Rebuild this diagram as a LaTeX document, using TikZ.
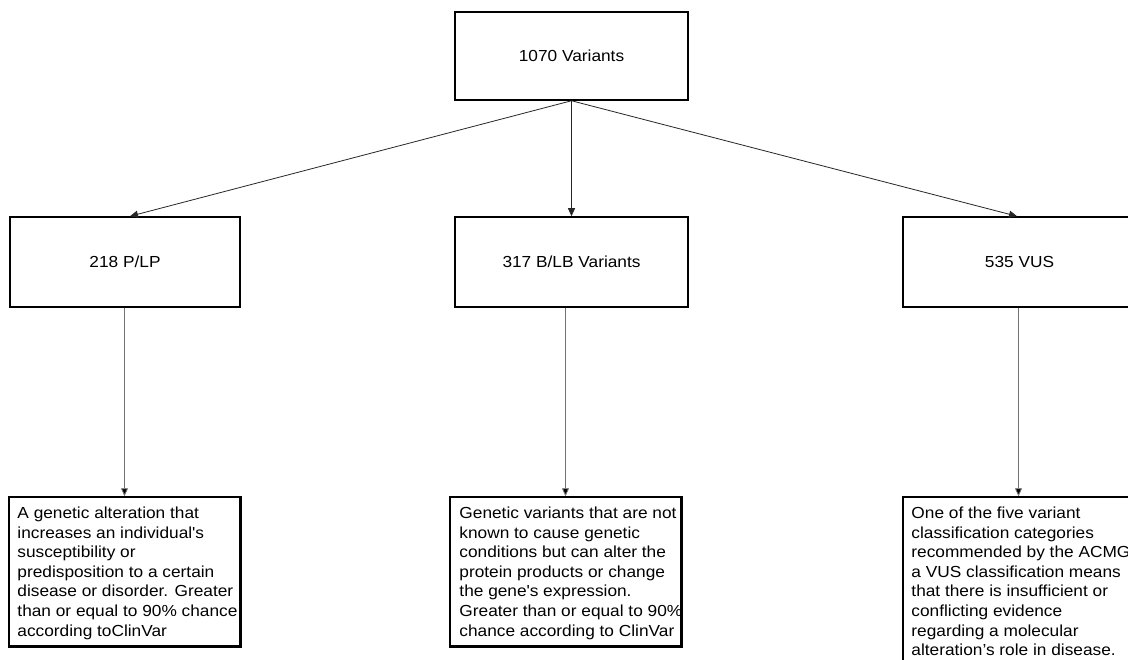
\documentclass[tikz,border=0pt]{standalone}
\usepackage{fontspec}
\setmainfont{Liberation Sans}[FakeStretch=1.08]
\usetikzlibrary{arrows.meta}
\begin{document}
\begin{tikzpicture}[x=1pt,y=-1pt,
  catbox/.style={draw=black,line width=1.5pt,inner sep=0pt,fill=white,
    font=\fontsize{16}{19.6}\selectfont},
  desctext/.style={align=left,inner sep=0pt,anchor=north west,
    font=\fontsize{16}{19.6}\selectfont},
  topline/.style={draw=black!85,line width=0.8pt,-{Triangle[length=8pt,width=7pt]}},
  lowline/.style={draw=black!55,line width=0.8pt,-{Triangle[length=8pt,width=7pt,fill=black]}}]
\useasboundingbox (0,0) rectangle (1128,660);
% boxes
\node[catbox,minimum width=233pt,minimum height=88pt] (top) at (571.5,56) {1070 Variants};
\node[catbox,minimum width=230pt,minimum height=90pt] (plp) at (125,262) {218 P/LP};
\node[catbox,minimum width=233pt,minimum height=90pt] (blb) at (571.5,262) {317 B/LB Variants};
\node[catbox,minimum width=233pt,minimum height=90pt] (vus) at (1019.5,262) {535 VUS};
\node[catbox,minimum width=231pt,minimum height=149pt] (dplp) at (124.5,571.5) {};
\node[catbox,minimum width=231pt,minimum height=149pt] (dblb) at (565.5,571.5) {};
\node[catbox,minimum width=231pt,minimum height=186pt] (dvus) at (1018.5,590) {};
% texts
\begin{scope}
\clip (dplp.north west) rectangle (dplp.south east);
\node[desctext] (tplp) at ([xshift=9pt,yshift=-10.5pt]dplp.north west)
 {A genetic alteration that\\
  increases an individual\textquotesingle s\\
  susceptibility or\\
  predisposition to a certain\\
  disease or disorder. Greater\\
  than or equal to 90\% chance\\
  according toClinVar};
\end{scope}
\begin{scope}
\clip (dblb.north west) rectangle (dblb.south east);
\node[desctext] (tblb) at ([xshift=10pt,yshift=-10.5pt]dblb.north west)
 {Genetic variants that are not\\
  known to cause genetic\\
  conditions but can alter the\\
  protein products or change\\
  the gene\textquotesingle s expression.\\
  Greater than or equal to 90\%\\
  chance according to ClinVar};
\end{scope}
\node[desctext] (tvus) at ([xshift=9pt,yshift=-10.5pt]dvus.north west)
 {One of the five variant\\
  classification categories\\
  recommended by the ACMG\\
  a VUS classification means\\
  that there is insufficient or\\
  conflicting evidence\\
  regarding a molecular\\
  alteration’s role in disease.};
% redraw borders over text
\draw[line width=1.5pt] (dplp.north west) rectangle (dplp.south east);
\draw[line width=1.5pt] (dblb.north west) rectangle (dblb.south east);
\draw[line width=1.5pt] (dvus.north west) rectangle (dvus.south east);
% connectors
\draw[topline] (top.south) -- ([xshift=5pt]plp.north);
\draw[topline] (top.south) -- (blb.north);
\draw[topline] (top.south) -- ([xshift=-2.5pt]vus.north);
\draw[lowline] (plp.south -| dplp.north) -- (dplp.north);
\draw[lowline] (blb.south -| dblb.north) -- (dblb.north);
\draw[lowline] (vus.south -| dvus.north) -- (dvus.north);
\end{tikzpicture}
\end{document}
